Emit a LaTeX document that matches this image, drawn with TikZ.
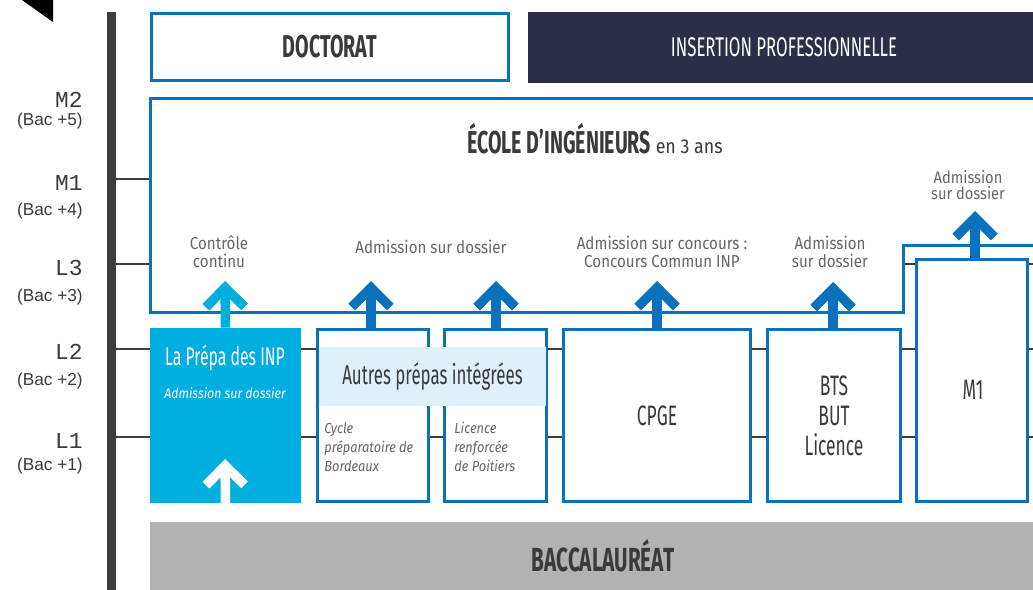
\documentclass[tikz,border=0pt]{standalone}
\usepackage{fontspec}
\setmainfont{Fira Sans}
\newfontfamily\titrefont[FakeStretch=0.62]{Fira Sans}
\newfontfamily\notefont[FakeStretch=0.88]{Fira Sans}
\newfontfamily\niveaufont{Liberation Mono}
\newfontfamily\bacfont{Liberation Sans}
\usetikzlibrary{arrows.meta}

\definecolor{bleuinp}{HTML}{0A71BC}
\definecolor{cyaninp}{HTML}{00AEDF}
\definecolor{marine}{HTML}{2B2E49}
\definecolor{grisligne}{HTML}{3C3C3B}
\definecolor{bandeau}{HTML}{DFF0FB}
\definecolor{grisbac}{HTML}{B2B2B2}
\definecolor{textfonce}{HTML}{3A3A3A}
\definecolor{gristexte}{HTML}{666666}

\tikzset{
  cadre/.style={draw=bleuinp, line width=0.06cm, fill=white, inner sep=0pt},
  titre/.style={font=\titrefont\fontsize{16}{17}\selectfont, text=textfonce, align=center},
  note/.style={font=\notefont\fontsize{9.8}{10.4}\selectfont, text=gristexte, align=center},
  petitenote/.style={font=\notefont\itshape\fontsize{8.3}{10.8}\selectfont, text=gristexte, align=left, anchor=west, inner sep=0pt},
  fleche/.style={line width=0.19cm, -{Straight Barb[sharp,length=11pt,width=22pt]}},
  niveau/.style={draw=grisligne, line width=0.05cm},
  niv/.style={font=\niveaufont\fontsize{13}{13}\selectfont, text=textfonce, anchor=east, inner sep=0pt},
  bac/.style={font=\bacfont\fontsize{9.8}{10}\selectfont, text=textfonce, anchor=east, inner sep=0pt},
}

\begin{document}
\begin{tikzpicture}[x=0.02cm, y=-0.02cm]
\useasboundingbox (0,0) rectangle (1033,589);

%% le petit triangle en haut à gauche
\fill[black] (22,0) -- (53,0) -- (53,22) -- cycle;

%% l'axe vertical et les traits de niveau
\draw[grisligne, line width=0.18cm] (111.5,12) -- (111.5,595);
\foreach \y in {179,264,349,437}
  \draw[niveau] (116,\y) -- (1040,\y);

%% les niveaux
\foreach \n/\b/\yn/\yb in {M2/5/100/121, M1/4/183/211, L3/3/268/297, L2/2/352/381, L1/1/441/466}{
  \node[niv] (niv\n) at (83,\yn) {\n};
  \node[bac] (bac\n) at (83,\yb) {(Bac +\b)};
}

%% en haut
\node[cadre, minimum width=7.15cm, minimum height=1.35cm, titre,
      font=\titrefont\fontsize{18}{19}\selectfont\bfseries] (doctorat) at (330,47) {DOCTORAT};
\node[fill=marine, minimum width=10.24cm, minimum height=1.42cm, titre, text=white,
      font=\titrefont\fontsize{15.4}{16}\selectfont] (insertion) at (784,47.5) {INSERTION PROFESSIONNELLE};

%% l'école, avec sa marche à droite
\draw[cadre] (150,98) -- (1040,98) -- (1040,245) -- (903,245) -- (903,312) -- (150,312) -- cycle;
\node[titre] (ecole) at (595,139) {{\fontsize{18}{19}\selectfont\bfseries ÉCOLE D’INGÉNIEURS}{\notefont\fontsize{11.5}{12}\selectfont\ en 3 ans}};

%% les voies d'accès
\node[fill=cyaninp, minimum width=3.02cm, minimum height=3.5cm] (prepa) at (225.5,415.5) {};
\node[titre, text=white, font=\titrefont\fontsize{14.5}{16}\selectfont] (prepatitre) at (225,358) {La Prépa des INP};
\node[note, text=white, font=\notefont\itshape\fontsize{8}{9}\selectfont] (prepanote) at (225,393) {Admission sur dossier};

\node[cadre, minimum width=2.22cm, minimum height=3.44cm] (bordeaux) at (373,415.5) {};
\node[cadre, minimum width=2.04cm, minimum height=3.44cm] (poitiers) at (495.5,415.5) {};
\node[fill=bandeau, minimum width=4.54cm, minimum height=1.18cm, titre,
      font=\titrefont\fontsize{15.5}{17}\selectfont] (autres) at (432.5,376.5) {Autres prépas intégrées};
\node[petitenote] (bordeauxnote) at (324,447) {Cycle\\préparatoire de\\Bordeaux};
\node[petitenote] (poitiersnote) at (454,447) {Licence\\renforcée\\de Poitiers};

\node[cadre, minimum width=3.74cm, minimum height=3.44cm, titre] (cpge) at (657,415.5) {CPGE};
\node[cadre, minimum width=2.66cm, minimum height=3.44cm, titre] (bts) at (834,415.5) {BTS\\BUT\\Licence};
\node[cadre, minimum width=2.22cm, minimum height=4.84cm] (m1) at (972,380.5) {};
\node[titre] (m1titre) at (973,390) {M1};

%% le bac
\node[fill=grisbac, minimum width=18.12cm, minimum height=1.36cm, titre,
      font=\titrefont\fontsize{19}{20}\selectfont\bfseries] (bac) at (603,556) {BACCALAURÉAT};

%% les flèches
\coordinate (pointe0) at (225,459);
\coordinate (pointe1) at (225,281);
\coordinate (pointe2) at (371,281);
\coordinate (pointe3) at (496,281);
\coordinate (pointe4) at (657,281);
\coordinate (pointe5) at (833,282);
\coordinate (pointe6) at (975,211);

\draw[fleche, white] (prepa.south) -- (pointe0);
\draw[fleche, cyaninp] (prepa.north) -- (pointe1);
\draw[fleche, bleuinp] (bordeaux.north -| pointe2) -- (pointe2);
\draw[fleche, bleuinp] (poitiers.north -| pointe3) -- (pointe3);
\draw[fleche, bleuinp] (cpge.north) -- (pointe4);
\draw[fleche, bleuinp] (bts.north -| pointe5) -- (pointe5);
\draw[fleche, bleuinp] (m1.north -| pointe6) -- (pointe6);

%% notations des flèches
\node[note] (controle) at (219,252) {Contrôle\\continu};
\node[note] (dossier1) at (431,247) {Admission sur dossier};
\node[note] (concours) at (662,252) {Admission sur concours :\\Concours Commun INP};
\node[note] (dossier2) at (830,252) {Admission\\sur dossier};
\node[note, font=\notefont\fontsize{9.5}{9}\selectfont] (dossier3) at (968,185) {Admission\\sur dossier};

\end{tikzpicture}
\end{document}
